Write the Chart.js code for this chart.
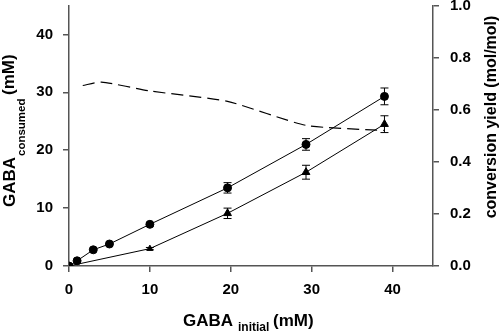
<!DOCTYPE html>
<html>
<head>
<meta charset="utf-8">
<script src="https://cdn.jsdelivr.net/npm/chart.js@4/dist/chart.umd.min.js"></script>
<style>
  html, body { margin: 0; padding: 0; background: #fff; }
  #wrap { width: 500px; height: 334px; }
</style>
</head>
<body>
<div id="wrap"><canvas id="gabaChart" width="500" height="334"></canvas></div>
<script>
// GABA consumed vs initial, plus conversion yield

const circleX = [0, 1, 3, 5, 10, 19.6, 29.3, 39];
const circleY = [0, 0.9, 2.8, 3.8, 7.2, 13.5, 21.0, 29.3];
const circleErr = [0, 0, 0, 0, 0.3, 0.9, 1.0, 1.45];

const triangleX = [0, 10, 19.6, 29.3, 39];
const triangleY = [0, 3.0, 9.1, 16.2, 24.5];
const triangleErr = [0, 0.2, 0.9, 1.2, 1.45];

const yieldX = [1.7, 4, 10, 19.6, 29.3, 39];
const yieldY = [0.693, 0.706, 0.672, 0.632, 0.54, 0.52];

const xTicks = [0, 10, 20, 30, 40];

const FONT = "'Liberation Sans', Arial, sans-serif";

function toPoints(xs, ys) {
  return xs.map((x, i) => ({ x: x, y: ys[i] }));
}

// error bars for the two measured series
const errorBars = {
  id: 'errorBars',
  afterDatasetsDraw(chart) {
    const ctx = chart.ctx;
    const xs = chart.scales.x;
    const ys = chart.scales.y;
    const sets = [[circleX, circleY, circleErr], [triangleX, triangleY, triangleErr]];
    ctx.save();
    ctx.strokeStyle = '#000';
    ctx.lineWidth = 1;
    sets.forEach(([px, py, pe]) => {
      px.forEach((x, i) => {
        if (!pe[i]) return;
        const cx = xs.getPixelForValue(x);
        const top = ys.getPixelForValue(py[i] + pe[i]);
        const bot = ys.getPixelForValue(py[i] - pe[i]);
        ctx.beginPath();
        ctx.moveTo(cx, top); ctx.lineTo(cx, bot);
        ctx.moveTo(cx - 4, top); ctx.lineTo(cx + 4, top);
        ctx.moveTo(cx - 4, bot); ctx.lineTo(cx + 4, bot);
        ctx.stroke();
      });
    });
    ctx.restore();
  }
};

// axis titles with subscripts
const axisTitles = {
  id: 'axisTitles',
  afterDraw(chart) {
    const ctx = chart.ctx;
    ctx.save();
    ctx.fillStyle = '#000';
    ctx.textBaseline = 'alphabetic';
    ctx.textAlign = 'left';

    // x title
    ctx.font = 'bold 17px ' + FONT;
    ctx.fillText('GABA', 183, 326);
    ctx.font = 'bold 12px ' + FONT;
    ctx.fillText('initial', 238, 331);
    ctx.font = 'bold 17px ' + FONT;
    ctx.fillText('(mM)', 273, 326);

    // left title
    ctx.save();
    ctx.rotate(-Math.PI / 2);
    ctx.font = 'bold 17px ' + FONT;
    ctx.fillText('GABA', -207, 15);
    ctx.font = 'bold 11.5px ' + FONT;
    ctx.fillText('consumed', -156, 25);
    ctx.font = 'bold 17px ' + FONT;
    ctx.fillText('(mM)', -95, 14);
    ctx.restore();

    // right title
    ctx.save();
    ctx.rotate(-Math.PI / 2);
    ctx.textAlign = 'center';
    ctx.font = 'bold 16px ' + FONT;
    ctx.fillText('conversion yield (mol/mol)', -117, 496);
    ctx.restore();

    ctx.restore();
  }
};

const axisStyle = {
  grid: { drawOnChartArea: false, drawTicks: true, tickLength: 6, color: '#555', lineWidth: 1.5 },
  border: { display: true, color: '#555', width: 1.5 }
};

const ctx = document.getElementById('gabaChart').getContext('2d');
new Chart(ctx, {
  type: 'line',
  data: {
    datasets: [{
      label: 'consumed (circles)',
      data: toPoints(circleX, circleY),
      yAxisID: 'y',
      borderColor: '#000',
      backgroundColor: '#000',
      borderWidth: 1,
      pointStyle: 'circle',
      pointRadius: 4,
      tension: 0
    }, {
      label: 'consumed (triangles)',
      data: toPoints(triangleX, triangleY),
      yAxisID: 'y',
      borderColor: '#000',
      backgroundColor: '#000',
      borderWidth: 1,
      pointStyle: 'triangle',
      pointRadius: [0, 3.5, 4.5, 4.5, 4.5],
      tension: 0
    }, {
      label: 'conversion yield',
      data: toPoints(yieldX, yieldY),
      yAxisID: 'y1',
      borderColor: '#000',
      borderWidth: 1.2,
      borderDash: [12, 6],
      pointRadius: 0,
      tension: 0.2
    }]
  },
  options: {
    responsive: false,
    animation: false,
    layout: { padding: { top: 5, left: 0, right: 0, bottom: 0 } },
    plugins: {
      legend: { display: false },
      tooltip: { enabled: false }
    },
    scales: {
      x: {
        type: 'linear',
        min: 0,
        max: 45,
        afterBuildTicks: s => { s.ticks = xTicks.map(v => ({ value: v })); },
        afterFit: s => { s.height = 68; s.paddingLeft = 0; s.paddingRight = 0; },
        ticks: { color: '#000', font: { family: FONT, size: 15, weight: 'bold' }, padding: 9 },
        ...axisStyle
      },
      y: {
        position: 'left',
        min: 0,
        max: 45,
        afterFit: s => { s.width = 69; s.paddingTop = 0; s.paddingBottom = 0; },
        ticks: { stepSize: 10, includeBounds: false, color: '#000', font: { family: FONT, size: 15, weight: 'bold' }, padding: 10 },
        ...axisStyle
      },
      y1: {
        position: 'right',
        min: 0,
        max: 1,
        afterFit: s => { s.width = 67; s.paddingTop = 0; s.paddingBottom = 0; },
        ticks: { stepSize: 0.2, color: '#000', font: { family: FONT, size: 15, weight: 'bold' }, padding: 11,
          callback: v => v.toFixed(1) },
        ...axisStyle
      }
    }
  },
  plugins: [errorBars, axisTitles]
});
</script>
</body>
</html>
